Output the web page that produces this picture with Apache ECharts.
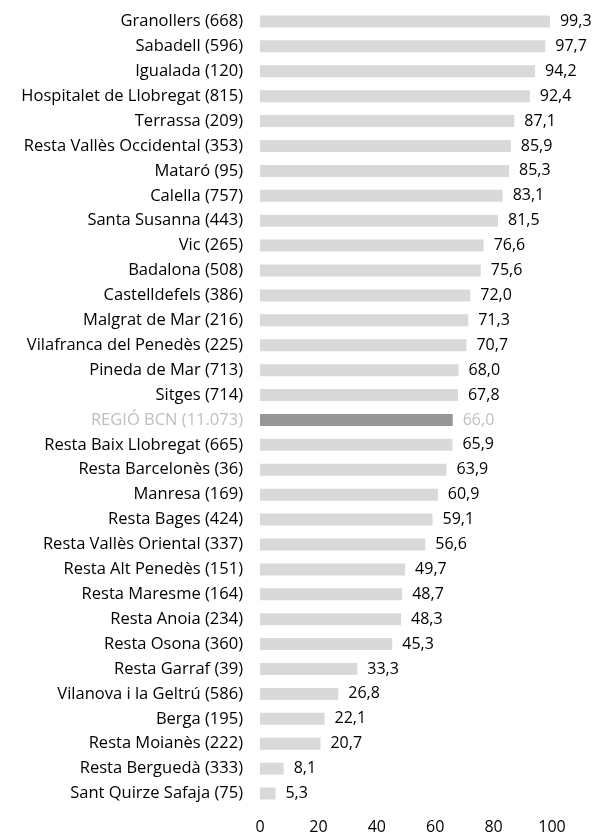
<!DOCTYPE html>
<html>
<head>
<meta charset="utf-8">
<script src="https://cdn.jsdelivr.net/npm/echarts@6/dist/echarts.min.js"></script>
<style>
  html, body { margin: 0; padding: 0; background: #fff; }
  #chart { width: 593px; height: 838px; }
</style>
</head>
<body>
<div id="chart"></div>
<script>
// categories, top to bottom
var categories = [
  'Granollers (668)', 'Sabadell (596)', 'Igualada (120)', 'Hospitalet de Llobregat (815)',
  'Terrassa (209)', 'Resta Vallès Occidental (353)', 'Mataró (95)', 'Calella (757)',
  'Santa Susanna (443)', 'Vic (265)', 'Badalona (508)', 'Castelldefels (386)',
  'Malgrat de Mar (216)', 'Vilafranca del Penedès (225)', 'Pineda de Mar (713)', 'Sitges (714)',
  'REGIÓ BCN (11.073)', 'Resta Baix Llobregat (665)', 'Resta Barcelonès (36)', 'Manresa (169)',
  'Resta Bages (424)', 'Resta Vallès Oriental (337)', 'Resta Alt Penedès (151)', 'Resta Maresme (164)',
  'Resta Anoia (234)', 'Resta Osona (360)', 'Resta Garraf (39)', 'Vilanova i la Geltrú (586)',
  'Berga (195)', 'Resta Moianès (222)', 'Resta Berguedà (333)', 'Sant Quirze Safaja (75)'
];
var values = [
  99.3, 97.7, 94.2, 92.4, 87.1, 85.9, 85.3, 83.1,
  81.5, 76.6, 75.6, 72.0, 71.3, 70.7, 68.0, 67.8,
  66.0, 65.9, 63.9, 60.9, 59.1, 56.6, 49.7, 48.7,
  48.3, 45.3, 33.3, 26.8, 22.1, 20.7, 8.1, 5.3
];
var highlight = 'REGIÓ BCN (11.073)';
var xTicks = [0, 20, 40, 60, 80, 100];

var font = '"Open Sans", sans-serif';
var chart = echarts.init(document.getElementById('chart'));

var option = {
  animation: false,
  grid: { left: 260, right: 41, top: 9, bottom: 32, containLabel: false },
  xAxis: {
    type: 'value',
    min: xTicks[0],
    max: xTicks[xTicks.length - 1],
    interval: 20,
    axisLine: { show: false },
    axisTick: { show: false },
    splitLine: { show: false },
    axisLabel: { color: '#000', fontSize: 16, fontFamily: font, margin: 13 }
  },
  yAxis: {
    type: 'category',
    data: categories,
    inverse: true,
    axisLine: { show: false },
    axisTick: { show: false },
    axisLabel: {
      fontSize: 16.5,
      fontFamily: font,
      margin: 17,
      color: function (v) { return v === highlight ? '#bfbfbf' : '#000'; }
    }
  },
  series: [{
    type: 'bar',
    barWidth: 12,
    data: values.map(function (v, i) {
      var hl = categories[i] === highlight;
      return {
        value: v,
        itemStyle: { color: hl ? '#969696' : '#d9d9d9' },
        label: { color: hl ? '#bfbfbf' : '#000' }
      };
    }),
    label: {
      show: true,
      position: 'right',
      distance: 10,
      fontSize: 16,
      fontFamily: font,
      formatter: function (p) { return p.value.toFixed(1).replace('.', ','); }
    }
  }]
};
chart.setOption(option);
</script>
</body>
</html>
